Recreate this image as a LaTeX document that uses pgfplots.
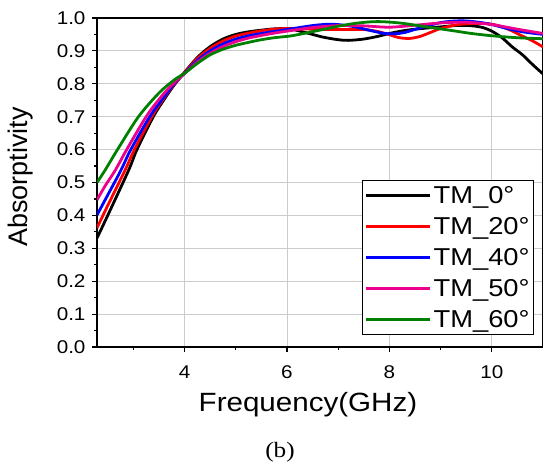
\documentclass[border=0pt]{standalone}
\usepackage{fontspec}
\setmainfont{Liberation Sans}[FakeStretch=1.12]
\newfontfamily\plainsans{Liberation Sans}
\newfontfamily\timesfont{Liberation Serif}[FakeStretch=1.15]
\usepackage{pgfplots}
\pgfplotsset{compat=1.18}
\definecolor{cgreen}{RGB}{0,128,0}
\begin{document}
\begin{tikzpicture}
\useasboundingbox (0,0) rectangle (543bp,463bp);
\begin{axis}[
  at={(97bp,116bp)}, anchor=origin,
  scale only axis, width=446bp, height=329bp,
  xmin=2.29, xmax=11, ymin=0, ymax=1.0,
  xtick={4,6,8,10}, minor xtick={3,5,7,9},
  ytick={0,0.1,...,1.0}, minor ytick={0.05,0.15,...,0.95},
  xtick pos=bottom, ytick pos=left, tick align=outside,
  major tick length=5bp, minor tick length=3bp,
  every tick/.style={black, line width=1.2pt},
  axis line style={black, line width=1.5pt},
  grid=major, major grid style={black!20, line width=0.8pt},
  /pgf/number format/assume math mode=true,
  ticklabel style={font=\fontsize{18.5}{20}\selectfont},
  xticklabel style={yshift=-10bp},
  yticklabel style={xshift=-3bp, /pgf/number format/fixed, /pgf/number format/fixed zerofill, /pgf/number format/precision=1},
  xlabel={Frequency(GHz)}, ylabel={Absorptivity},
  xlabel style={font=\fontsize{26.5}{30}\selectfont, at={(axis description cs:0.473,-0.176)}, anchor=center},
  ylabel style={font=\plainsans\fontsize{27}{30}\selectfont, at={(axis description cs:-0.172,0.517)}, anchor=center},
  legend style={at={(axis description cs:0.980,0.036)}, anchor=south east,
    draw=black, line width=1pt, font=\fontsize{24.5}{28}\selectfont,
    inner xsep=2pt, inner ysep=4pt, row sep=8.5pt},
  legend cell align=left,
  legend image code/.code={\draw[#1, line width=2.5pt] (0bp,0bp) -- (60bp,0bp); \path (0bp,0bp) -- (64bp,0bp);},
  every axis plot post/.append style={line width=2.8pt, smooth, tension=0.5},
]
\addplot[black] coordinates {
(2.29,0.331)(2.5,0.40)(2.91,0.538)(3.07,0.60)(3.39,0.70)(3.6,0.752)(3.8,0.797)
(4.0,0.835)(4.25,0.880)(4.5,0.913)(4.75,0.936)(5.0,0.950)(5.25,0.958)(5.5,0.963)
(5.75,0.967)(6.05,0.967)(6.38,0.955)(6.7,0.942)(7.0,0.934)(7.2,0.932)(7.5,0.936)(7.8,0.945)
(8.0,0.953)(8.3,0.962)(8.63,0.968)(9.0,0.973)(9.3,0.977)(9.55,0.977)(9.8,0.972)
(10.0,0.960)(10.2,0.940)(10.4,0.912)(10.6,0.888)(10.8,0.858)(11.0,0.830)};
\addlegendentry{TM\_0°}
\addplot[red] coordinates {
(2.29,0.362)(2.5,0.43)(2.84,0.538)(3.02,0.60)(3.36,0.70)(3.6,0.757)(3.8,0.799)
(4.0,0.834)(4.25,0.877)(4.5,0.908)(4.75,0.930)(5.0,0.945)(5.25,0.954)(5.5,0.961)
(5.75,0.966)(6.0,0.968)(6.5,0.966)(7.0,0.965)(7.5,0.965)(7.8,0.958)(8.0,0.949)(8.2,0.940)
(8.4,0.938)(8.6,0.944)(8.8,0.956)(9.0,0.968)(9.3,0.979)(9.6,0.983)(9.9,0.983)
(10.1,0.978)(10.35,0.964)(10.6,0.945)(10.8,0.930)(11.0,0.912)};
\addlegendentry{TM\_20°}
\addplot[blue] coordinates {
(2.29,0.401)(2.5,0.462)(2.76,0.538)(2.95,0.60)(3.32,0.70)(3.6,0.76)(3.8,0.801)
(4.0,0.832)(4.25,0.871)(4.5,0.900)(4.75,0.921)(5.0,0.936)(5.25,0.946)(5.5,0.953)
(5.75,0.959)(6.0,0.965)(6.5,0.977)(6.8,0.981)(7.0,0.980)(7.3,0.974)(7.6,0.963)(7.9,0.953)
(8.1,0.952)(8.3,0.956)(8.6,0.970)(9.0,0.986)(9.3,0.991)(9.5,0.991)(9.8,0.986)
(10.0,0.980)(10.3,0.968)(10.6,0.958)(11.0,0.950)};
\addlegendentry{TM\_40°}
\addplot[magenta] coordinates {
(2.29,0.447)(2.45,0.49)(2.65,0.538)(2.87,0.60)(3.25,0.70)(3.55,0.762)(3.8,0.804)
(4.0,0.831)(4.25,0.866)(4.5,0.893)(4.75,0.913)(5.0,0.928)(5.25,0.939)(5.5,0.947)
(5.75,0.954)(6.0,0.960)(6.5,0.971)(7.0,0.977)(7.5,0.976)(8.0,0.972)(8.5,0.978)(9.0,0.985)
(9.5,0.987)(10.0,0.980)(10.5,0.966)(11.0,0.953)};
\addlegendentry{TM\_50°}
\addplot[cgreen] coordinates {
(2.29,0.500)(2.45,0.538)(2.69,0.60)(3.10,0.70)(3.5,0.772)(3.8,0.812)(4.0,0.832)
(4.25,0.862)(4.5,0.888)(4.75,0.905)(5.0,0.917)(5.25,0.926)(5.5,0.934)(5.75,0.940)
(6.05,0.945)(6.3,0.952)(6.7,0.965)(7.0,0.975)(7.3,0.983)(7.6,0.988)(7.8,0.989)
(8.05,0.987)(8.3,0.983)(8.6,0.976)(8.95,0.968)(9.3,0.960)(9.6,0.953)(10.0,0.946)
(10.5,0.940)(11.0,0.937)};
\addlegendentry{TM\_60°}
\end{axis}
\node[font=\timesfont\fontsize{22}{24}\selectfont] at (280bp,11bp) {(b)};
\end{tikzpicture}
\end{document}
